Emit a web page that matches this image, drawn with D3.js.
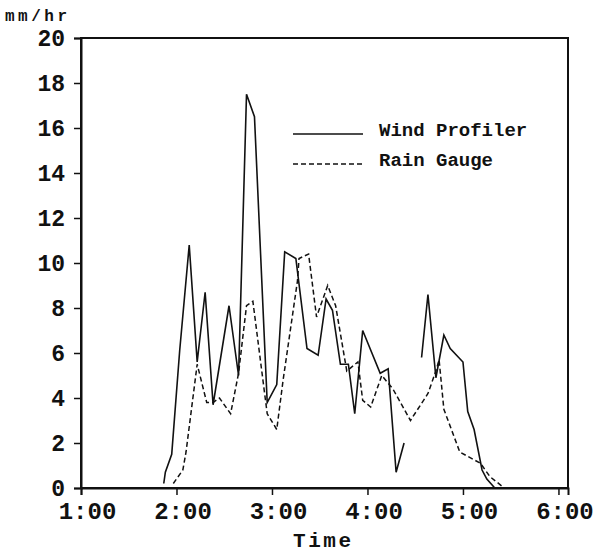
<!DOCTYPE html>
<html lang="en">
<head>
<meta charset="UTF-8">
<title>Wind Profiler vs Rain Gauge</title>
<script src="https://cdn.jsdelivr.net/npm/d3@7/dist/d3.min.js"></script>
<style>
  body { margin: 0; background: #fff; }
  svg text { font-family: "Liberation Mono", "DejaVu Sans Mono", monospace; font-weight: bold; fill: #111; }
</style>
</head>
<body>
<script>
// rain rate, mm/hr
let profilerTimes = ['1:52','1:53','1:57','2:02','2:08','2:13','2:18','2:23','2:33','2:39','2:44','2:49','2:57','3:03',
    '3:08','3:15','3:22','3:29','3:34','3:38','3:43','3:48','3:52','3:57','4:08','4:13','4:18','4:23','4:28',
    '4:34','4:38','4:43','4:48','4:52','5:00','5:03','5:07','5:12','5:15','5:20'];
let profilerValues = [0.2, 0.7, 1.5, 6.1, 10.8, 5.6, 8.7, 3.7, 8.1, 5.0, 17.5, 16.5, 3.8, 4.6,
    10.5, 10.2, 6.2, 5.9, 8.4, 7.9, 5.5, 5.5, 3.3, 7.0, 5.1, 5.3, 0.7, 2.0, null,
    5.8, 8.6, 4.9, 6.8, 6.2, 5.6, 3.4, 2.6, 0.8, 0.4, 0.0];

let gaugeTimes = ['1:58','2:04','2:06','2:13','2:19','2:23','2:27','2:34','2:39','2:44','2:48','2:57','3:03','3:07',
    '3:16','3:17','3:23','3:28','3:35','3:40','3:47','3:54','3:57','4:02','4:09','4:16','4:27','4:38','4:43',
    '4:45','4:48','4:58','5:11','5:17','5:26'];
let gaugeValues = [0.2, 0.8, 1.6, 5.5, 3.8, 3.8, 4.0, 3.3, 5.1, 8.1, 8.3, 3.3, 2.6, 4.8,
    9.2, 10.2, 10.4, 7.6, 9.0, 8.1, 5.2, 5.6, 3.9, 3.6, 5.0, 4.4, 3.0, 4.2, 5.2,
    5.7, 3.5, 1.6, 1.1, 0.5, 0.0];

let xTickLabels = ['1:00', '2:00', '3:00', '4:00', '5:00', '6:00'];
let yTickValues = [0, 2, 4, 6, 8, 10, 12, 14, 16, 18, 20];
let seriesNames = ['Wind Profiler', 'Rain Gauge'];

let width = 595, height = 554;
let margin = {left: 81, right: 27, top: 38, bottom: 66};

let parse = d3.timeParse('%H:%M');

let svg = d3.select('body').append('svg')
    .attr('width', width)
    .attr('height', height);

let x = d3.scaleTime()
    .domain([parse('1:00'), parse('6:06')])
    .range([margin.left, width - margin.right]);

let y = d3.scaleLinear()
    .domain([0, 20])
    .range([height - margin.bottom, margin.top]);

// frame
svg.append('rect')
    .attr('x', x.range()[0]).attr('y', y(20))
    .attr('width', x.range()[1] - x.range()[0])
    .attr('height', y(0) - y(20))
    .attr('fill', 'none').attr('stroke', '#111').attr('stroke-width', 2);

let yAxis = svg.append('g')
    .attr('transform', 'translate(' + margin.left + ',0)')
    .call(d3.axisLeft(y).tickValues(yTickValues).tickSize(7).tickPadding(9).tickFormat(d3.format('d')));

let xAxis = svg.append('g')
    .attr('transform', 'translate(0,' + y(0) + ')')
    .call(d3.axisBottom(x).tickValues(xTickLabels.map(parse)).tickSize(7).tickPadding(7)
        .tickFormat((d, i) => xTickLabels[i]));

[yAxis, xAxis].forEach(function (g) {
    g.select('.domain').attr('stroke', '#111').attr('stroke-width', 2);
    g.selectAll('.tick line').attr('stroke', '#111').attr('stroke-width', 1.5);
    g.selectAll('.tick text').style('font-size', '23px').attr('fill', '#111');
});
xAxis.selectAll('.tick text').style('font-size', '24px').attr('dx', 6);

// axis titles
svg.append('text')
    .attr('x', 5).attr('y', 21)
    .style('font-size', '16px')
    .attr('textLength', 62)
    .text('mm/hr');

svg.append('text')
    .attr('x', 322).attr('y', 547)
    .attr('text-anchor', 'middle')
    .style('font-size', '21px')
    .attr('textLength', 58)
    .text('Time');

let line = d3.line()
    .defined(d => d.v !== null)
    .x(d => x(d.t))
    .y(d => y(d.v));

let profiler = profilerTimes.map((t, i) => ({t: parse(t), v: profilerValues[i]}));
let gauge = gaugeTimes.map((t, i) => ({t: parse(t), v: gaugeValues[i]}));

svg.append('path')
    .datum(gauge)
    .attr('d', line)
    .attr('fill', 'none')
    .attr('stroke', '#111')
    .attr('stroke-width', 1.5)
    .attr('stroke-dasharray', '5,3');

svg.append('path')
    .datum(profiler)
    .attr('d', line)
    .attr('fill', 'none')
    .attr('stroke', '#111')
    .attr('stroke-width', 1.6)
    .attr('stroke-linejoin', 'miter');

// legend
let legend = svg.append('g');
seriesNames.forEach(function (name, i) {
    let ly = 134 + i * 30;
    legend.append('line')
        .attr('x1', 293).attr('x2', 363)
        .attr('y1', ly).attr('y2', ly)
        .attr('stroke', '#111')
        .attr('stroke-width', 1.5)
        .attr('stroke-dasharray', i === 0 ? null : '5,3');
    legend.append('text')
        .attr('x', 379).attr('y', ly + 2)
        .style('font-size', '19px')
        .text(name);
});
</script>
</body>
</html>
